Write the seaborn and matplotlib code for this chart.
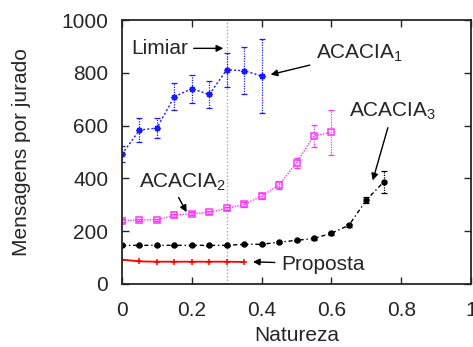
import numpy as np
import pandas as pd
import matplotlib
matplotlib.use("Agg")
import matplotlib.pyplot as plt
import seaborn as sns

# data
x_a1 = [0, 0.05, 0.1, 0.15, 0.2, 0.25, 0.3, 0.35, 0.4]
y_a1 = [492, 583, 591, 710, 740, 718, 812, 808, 788]
e_a1 = [30, 45, 37, 50, 53, 52, 65, 90, 142]

x_a2 = [0, 0.05, 0.1, 0.15, 0.2, 0.25, 0.3, 0.35, 0.4, 0.45, 0.5, 0.55, 0.6]
y_a2 = [240, 242, 243, 260, 266, 271, 286, 301, 333, 375, 459, 562, 574]
e_a2 = [4, 4, 4, 6, 6, 6, 7, 8, 10, 15, 20, 42, 87]

x_a3 = [0, 0.05, 0.1, 0.15, 0.2, 0.25, 0.3, 0.35, 0.4, 0.45, 0.5, 0.55, 0.6, 0.65, 0.7, 0.75]
y_a3 = [146, 146, 146, 146, 146, 146, 146, 150, 150, 158, 165, 172, 192, 222, 318, 387]
e_a3 = [2, 2, 2, 2, 2, 2, 2, 2, 2, 3, 3, 4, 5, 6, 12, 42]

x_prop = [0, 0.05, 0.1, 0.15, 0.2, 0.25, 0.3, 0.35]
y_prop = [92, 85, 84, 84, 84, 84, 84, 83]

limiar = 0.3

sns.set_style("ticks")
plt.rcParams['font.family'] = ['Liberation Sans', 'DejaVu Sans']
plt.rcParams['mathtext.default'] = 'regular'
plt.rcParams['xtick.direction'] = 'in'
plt.rcParams['ytick.direction'] = 'in'

fig = plt.figure(figsize=(4.73, 3.47), dpi=100)
ax = fig.add_axes([0.258, 0.182, 0.738, 0.76])

series = [
    (x_a1, y_a1, e_a1, '#1a1aff', (8, 2, 0), 4.5, 'full', (0, (1.5, 1.5))),
    (x_a2, y_a2, e_a2, '#ff33ff', 's', 5, 'none', (0, (1, 1))),
    (x_a3, y_a3, e_a3, 'black', 'o', 3.5, 'full', (0, (3, 2, 1, 2))),
    (x_prop, y_prop, None, 'red', '+', 4.5, 'full', '-'),
]
for xs, ys, es, col, mk, ms, fill, ls in series:
    df = pd.DataFrame({'x': xs, 'y': ys})
    n_before = len(ax.lines)
    sns.lineplot(data=df, x='x', y='y', ax=ax, color=col)
    ln = ax.lines[n_before]
    ln.set_linestyle(ls)
    ln.set_linewidth(1.3 if ls == '-' else 1)
    ln.set_marker(mk)
    ln.set_markersize(ms)
    ln.set_markeredgecolor(col)
    ln.set_markerfacecolor('none' if fill == 'none' else col)
    ln.set_markeredgewidth(1.1)
    if es is not None:
        eb = ax.errorbar(xs, ys, yerr=es, fmt='none', ecolor=col, elinewidth=0.9,
                         capsize=2.5, capthick=0.9)
        for c in eb[2]:
            c.set_linestyle((0, (1, 1)))

ax.axvline(limiar, color='#aaaaaa', ls=(0, (1, 1.5)), lw=1, zorder=0)

ax.set_xlim(0, 1)
ax.set_ylim(0, 1000)
ax.set_xticks(np.arange(0, 1.01, 0.2))
ax.set_xticklabels(['0', '0.2', '0.4', '0.6', '0.8', '1'])
ax.set_yticks(np.arange(0, 1001, 200))
ax.tick_params(top=True, right=True, labelsize=15, length=5, width=1)
ax.tick_params(axis='x', pad=12)
ax.tick_params(axis='y', pad=10)
for s in ax.spines.values():
    s.set_linewidth(1.3)
    s.set_visible(True)
ax.set_xlabel('Natureza', fontsize=15, labelpad=5)
ax.set_ylabel('Mensagens por jurado', fontsize=15, labelpad=22)

arrow = dict(arrowstyle='-|>', color='black', lw=1, mutation_scale=10)
ax.annotate('Limiar', xy=(0.298, 893), xytext=(0.025, 893), fontsize=15,
            va='center', ha='left', arrowprops=arrow)
ax.annotate('ACACIA$_1$', xy=(0.418, 791), xytext=(0.555, 875), fontsize=15,
            va='center', ha='left', arrowprops=arrow)
ax.annotate('ACACIA$_3$', xy=(0.716, 382), xytext=(0.65, 655), fontsize=15,
            va='center', ha='left', arrowprops=arrow)
ax.annotate('ACACIA$_2$', xy=(0.185, 272), xytext=(0.05, 385), fontsize=15,
            va='center', ha='left',
            arrowprops=dict(arrow, relpos=(0.42, 0.0), shrinkA=1, shrinkB=0))
ax.annotate('Proposta', xy=(0.367, 84), xytext=(0.455, 75), fontsize=15,
            va='center', ha='left', arrowprops=arrow)

fig.savefig('out.png', dpi=100)
